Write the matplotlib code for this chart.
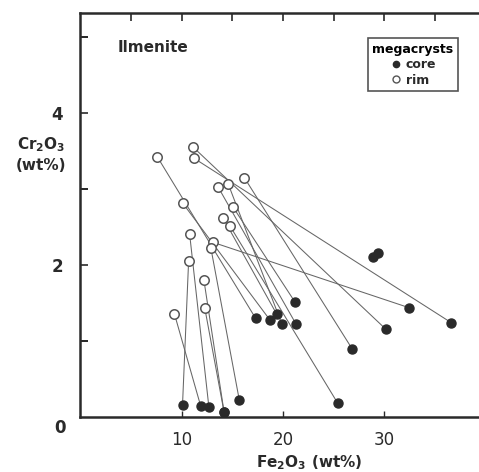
import matplotlib.pyplot as plt
from matplotlib.lines import Line2D

# rim / core pairs (Fe2O3 wt%, Cr2O3 wt%), one tie line per pair
rim_fe = [7.6, 11.1, 11.2, 16.2, 13.6, 14.6, 10.1, 15.1, 14.1, 14.8, 10.8, 13.1, 12.9, 10.7, 12.2, 12.3, 9.3]
rim_cr = [3.43, 3.56, 3.41, 3.15, 3.03, 3.07, 2.82, 2.76, 2.62, 2.51, 2.41, 2.30, 2.22, 2.05, 1.81, 1.43, 1.36]
core_fe = [17.3, 30.1, 36.6, 26.8, 21.3, 19.9, 18.7, 21.2, 19.4, 25.4, 12.7, 32.4, 15.7, 10.1, 14.2, 14.2, 11.9]
core_cr = [1.30, 1.16, 1.24, 0.90, 1.22, 1.22, 1.28, 1.51, 1.35, 0.18, 0.13, 1.44, 0.22, 0.16, 0.06, 0.06, 0.14]

# cores without a rim analysis
lone_fe = [28.9, 29.4]
lone_cr = [2.11, 2.16]

xticks = [10, 20, 30]
yticks = [2, 4]

ink = '#2a2a2a'
plt.rcParams['font.family'] = ['DejaVu Sans']
plt.rcParams['font.weight'] = 'bold'

fig = plt.figure(figsize=(4.79, 4.72), dpi=100)
ax = fig.add_axes([80 / 479, 55 / 472, 406 / 479, 404 / 472])
ax.set_xlim(0, 40)
ax.set_ylim(0, 5.32)

for rf, rc, cf, cc in zip(rim_fe, rim_cr, core_fe, core_cr):
    ax.plot([rf, cf], [rc, cc], color='#666666', lw=0.75, zorder=1)

ax.plot(core_fe, core_cr, 'o', ms=6.5, color=ink, mec=ink, zorder=3)
ax.plot(lone_fe, lone_cr, 'o', ms=6.5, color=ink, mec=ink, zorder=3)
ax.plot(rim_fe, rim_cr, 'o', ms=6.8, mfc='white', mec='#555555', mew=1.1, zorder=4)

for side in ['left', 'bottom', 'top']:
    ax.spines[side].set_linewidth(1.8)
    ax.spines[side].set_color(ink)
ax.spines['right'].set_visible(False)

ax.set_xticks(xticks)
ax.set_xticklabels([str(v) for v in xticks], fontsize=12, fontweight='normal')
ax.set_yticks(yticks)
ax.set_yticklabels([str(v) for v in yticks], fontsize=12)
ax.set_yticks([1, 3, 5], minor=True)
ax.tick_params(axis='x', direction='in', length=4, width=1, pad=10, colors=ink)
ax.tick_params(axis='y', direction='in', length=6, width=1.2, pad=12, colors=ink)
ax.tick_params(axis='y', which='minor', direction='in', length=6, width=1.2)

# inward ticks along the top edge
top = ax.secondary_xaxis('top')
top.set_xticks([5, 10, 15, 20, 25, 30, 35])
top.tick_params(direction='in', length=6, width=1.2, labeltop=False, colors=ink)
for s in top.spines.values():
    s.set_visible(False)

ax.text(-1.4, -0.14, '0', fontsize=12, ha='right', va='center', color=ink)

fig.text(41 / 479, 1 - 145 / 472, r'Cr$_\mathbf{2}$O$_\mathbf{3}$', fontsize=11,
         ha='center', va='center', color=ink)
fig.text(41 / 479, 1 - 166 / 472, '(wt%)', fontsize=11, ha='center', va='center', color=ink)
fig.text(309 / 479, 1 - 463 / 472, r'Fe$_\mathbf{2}$O$_\mathbf{3}$ (wt%)', fontsize=11,
         ha='center', va='center', color=ink)

ax.text(118 / 479, 1 - 48 / 472, 'Ilmenite', transform=fig.transFigure, fontsize=11,
        ha='left', va='center', color=ink)

handles = [Line2D([], [], ls='', marker='o', ms=4.5, color=ink),
           Line2D([], [], ls='', marker='o', ms=5, mfc='white', mec='#555555')]
leg = ax.legend(handles, ['core', 'rim'], title='megacrysts', loc='upper right',
                bbox_to_anchor=(464 / 479, 1 - 32 / 472), bbox_transform=fig.transFigure,
                fancybox=False, edgecolor=ink, fontsize=9, title_fontsize=9,
                handletextpad=0.3, handlelength=1.0, borderpad=0.35, labelspacing=0.2)
leg.get_frame().set_linewidth(1.2)
leg.get_title().set_fontweight('bold')
for t in leg.get_texts():
    t.set_color(ink)

fig.savefig('out.png', dpi=100)
